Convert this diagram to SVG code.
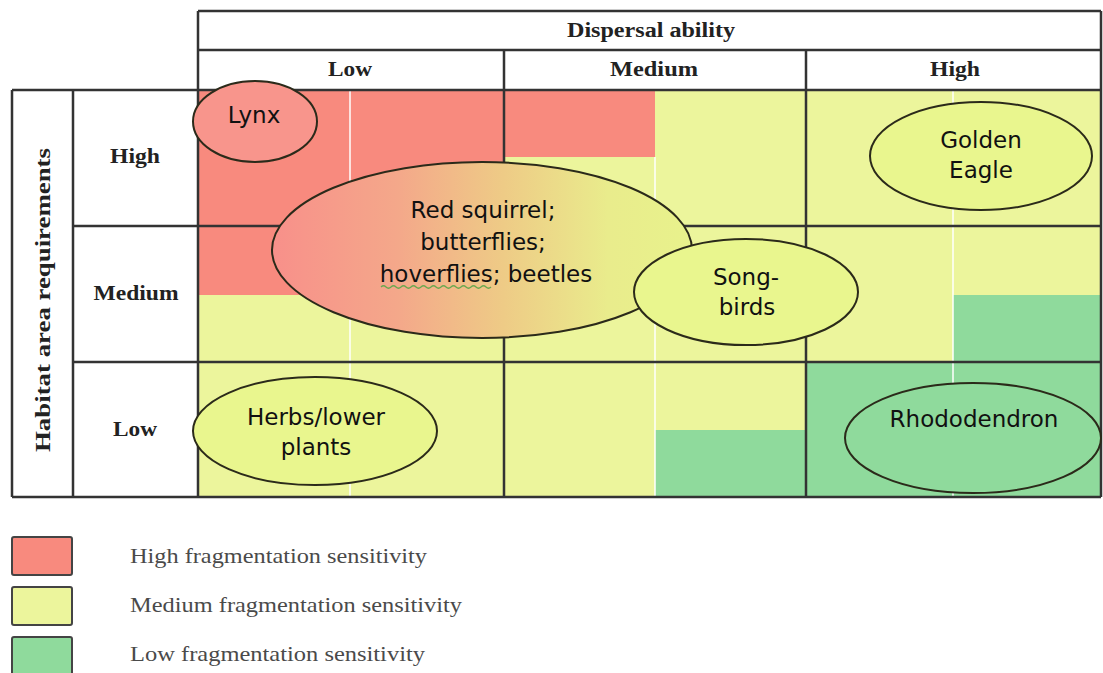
<svg xmlns="http://www.w3.org/2000/svg" width="1103" height="673" viewBox="0 0 1103 673">
<style>
.hdr{font-family:"Liberation Serif","Times New Roman",serif;font-weight:bold;font-size:20px;fill:#222;text-anchor:middle}
.lbl{font-family:"DejaVu Sans",Verdana,sans-serif;font-size:23px;fill:#111;text-anchor:middle}
.leg{font-family:"Liberation Serif","Times New Roman",serif;font-size:22px;fill:#4a4a4a}
.ln{stroke:#333;stroke-width:2.5;fill:none}
.fl{stroke:#ffffff;stroke-opacity:0.75;stroke-width:2}
.ell{stroke:#2b2a1a;stroke-width:2}
.red{fill:#f88a7e}
.yel{fill:#ecf59c}
.grn{fill:#8fda9c}
.sw{stroke:#444;stroke-width:2}
</style>
<defs>
<linearGradient id="rsq" gradientUnits="userSpaceOnUse" x1="273" y1="0" x2="692" y2="0">
<stop offset="0" stop-color="#f8908a"/>
<stop offset="0.3" stop-color="#f4a88a"/>
<stop offset="0.55" stop-color="#eecb86"/>
<stop offset="0.8" stop-color="#e9ec8c"/>
<stop offset="1" stop-color="#e8f28c"/>
</linearGradient>
</defs>
<rect width="1103" height="673" fill="#ffffff"/>

<g id="cells">
<rect x="198" y="90" width="903" height="407" class="yel"/>
<rect x="198" y="90" width="306" height="136" class="red"/>
<rect x="504" y="90" width="151" height="67" class="red"/>
<rect x="198" y="226" width="152" height="69" class="red"/>
<rect x="655" y="430" width="151" height="67" class="grn"/>
<rect x="953" y="295" width="148" height="67" class="grn"/>
<rect x="806" y="362" width="295" height="135" class="grn"/>
<line x1="350" y1="90" x2="350" y2="497" class="fl"/>
<line x1="655" y1="157" x2="655" y2="497" class="fl"/>
<line x1="953" y1="90" x2="953" y2="497" class="fl"/>
</g>

<g id="grid">
<line x1="198" y1="11" x2="1101" y2="11" class="ln"/>
<line x1="198" y1="50" x2="1101" y2="50" class="ln"/>
<line x1="12" y1="90" x2="1101" y2="90" class="ln"/>
<line x1="73" y1="226" x2="1101" y2="226" class="ln"/>
<line x1="73" y1="362" x2="1101" y2="362" class="ln"/>
<line x1="12" y1="497" x2="1101" y2="497" class="ln"/>
<line x1="12" y1="90" x2="12" y2="497" class="ln"/>
<line x1="73" y1="90" x2="73" y2="497" class="ln"/>
<line x1="198" y1="11" x2="198" y2="497" class="ln"/>
<line x1="504" y1="50" x2="504" y2="497" class="ln"/>
<line x1="806" y1="50" x2="806" y2="497" class="ln"/>
<line x1="1101" y1="11" x2="1101" y2="497" class="ln"/>
</g>

<g id="headers">
<text x="651" y="37" class="hdr" textLength="168" lengthAdjust="spacingAndGlyphs">Dispersal ability</text>
<text x="350" y="76" class="hdr" textLength="44" lengthAdjust="spacingAndGlyphs">Low</text>
<text x="654" y="76" class="hdr" textLength="88" lengthAdjust="spacingAndGlyphs">Medium</text>
<text x="955" y="76" class="hdr" textLength="50" lengthAdjust="spacingAndGlyphs">High</text>
<text x="135" y="163" class="hdr" textLength="50" lengthAdjust="spacingAndGlyphs">High</text>
<text x="136" y="300" class="hdr" textLength="85" lengthAdjust="spacingAndGlyphs">Medium</text>
<text x="135" y="436" class="hdr" textLength="44" lengthAdjust="spacingAndGlyphs">Low</text>
<text transform="translate(50,300) rotate(-90)" class="hdr" style="font-size:22px" textLength="304" lengthAdjust="spacingAndGlyphs">Habitat area requirements</text>
</g>

<g id="red-squirrel">
<ellipse cx="482" cy="250" rx="210" ry="88" fill="url(#rsq)" class="ell"/>
<text x="483" y="218" class="lbl">Red squirrel;</text>
<text x="483" y="250" class="lbl">butterflies;</text>
<text x="486" y="282" class="lbl">hoverflies; beetles</text>
<path d="M381 287 q2.5 -2.5 5 0 t5 0 t5 0 t5 0 t5 0 t5 0 t5 0 t5 0 t5 0 t5 0 t5 0 t5 0 t5 0 t5 0 t5 0 t5 0 t5 0 t5 0 t5 0 t5 0 t5 0 t5 0" fill="none" stroke="#6aa84f" stroke-width="1.2"/>
</g>

<g id="songbirds">
<ellipse cx="746" cy="292" rx="112" ry="53" fill="#e9f68e" class="ell"/>
<text x="746" y="285" class="lbl">Song-</text>
<text x="747" y="315" class="lbl">birds</text>
</g>

<g id="lynx">
<ellipse cx="255" cy="121.5" rx="62" ry="40.5" fill="#f8958c" class="ell"/>
<text x="254" y="123" class="lbl">Lynx</text>
</g>

<g id="golden-eagle">
<ellipse cx="981" cy="156" rx="111" ry="54" fill="#e9f68e" class="ell"/>
<text x="981" y="148" class="lbl">Golden</text>
<text x="981" y="178" class="lbl">Eagle</text>
</g>

<g id="herbs">
<ellipse cx="315" cy="431" rx="122" ry="54" fill="#e9f68e" class="ell"/>
<text x="316" y="425" class="lbl">Herbs/lower</text>
<text x="316" y="455" class="lbl">plants</text>
</g>

<g id="rhododendron">
<ellipse cx="973" cy="438" rx="128" ry="55" fill="#8fda9c" class="ell"/>
<text x="974" y="427" class="lbl">Rhododendron</text>
</g>

<g id="legend">
<rect x="12" y="537" width="60" height="38" rx="2" class="red sw"/>
<rect x="12" y="587" width="60" height="38" rx="2" class="yel sw"/>
<rect x="12" y="637" width="60" height="38" rx="2" class="grn sw"/>
<text x="130" y="563" class="leg" textLength="297" lengthAdjust="spacingAndGlyphs">High fragmentation sensitivity</text>
<text x="130" y="612" class="leg" textLength="332" lengthAdjust="spacingAndGlyphs">Medium fragmentation sensitivity</text>
<text x="130" y="661" class="leg" textLength="295" lengthAdjust="spacingAndGlyphs">Low fragmentation sensitivity</text>
</g>

<g id="connectors"/>
</svg>
